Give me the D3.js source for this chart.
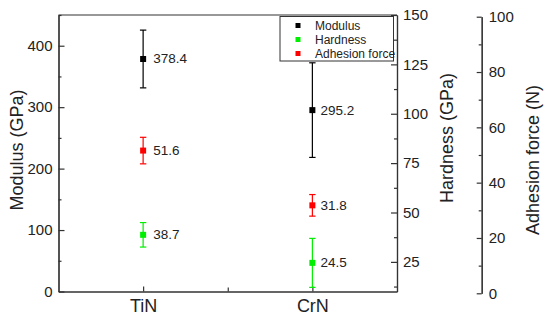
<!DOCTYPE html>
<html>
<head>
<meta charset="utf-8">
<script src="https://cdn.jsdelivr.net/npm/d3@7"></script>
<style>
  html, body { margin: 0; padding: 0; background: #fff; }
  svg { display: block; font-family: "Liberation Sans", Arial, sans-serif; }
</style>
</head>
<body>
<svg id="chart" width="550" height="319"></svg>
<script>
// ---- data ----
const categories = ["TiN", "CrN"];
const modulus = [378.4, 295.2];
const modulusErr = [47, 77];
const hardness = [38.7, 24.5];
const hardnessErr = [6.2, 12.4];
const adhesion = [51.6, 31.8];
const adhesionErr = [4.8, 3.9];
const modulusTicks = [0, 100, 200, 300, 400];
const hardnessTicks = [25, 50, 75, 100, 125, 150];
const adhesionTicks = [0, 20, 40, 60, 80, 100];
const legendNames = ["Modulus", "Hardness", "Adhesion force"];
const seriesColors = ["#000000", "#00ee00", "#ff0000"];

// ---- layout ----
const svg = d3.select("#chart");
const L = 58.5, R = 397, T = 15, B = 291.5;
const axisColor = "#333";
const textColor = "#222";

const x = d3.scaleLinear().domain([0.5, 2.5]).range([L, R]);
const yMod = d3.scaleLinear().domain([0, 450]).range([B, T]);
const yHard = d3.scaleLinear().domain([10, 150]).range([B, T]);
const yAdh = d3.scaleLinear().domain([0, 100]).range([293.3, 16.7]);

function styleAxis(g, fs) {
  g.select(".domain").attr("stroke", axisColor).attr("stroke-width", 1.2);
  g.selectAll(".tick line").attr("stroke", axisColor).attr("stroke-width", 1.2);
  g.selectAll(".tick text").attr("fill", textColor).style("font-size", fs + "px")
    .style("font-family", "'Liberation Sans', Arial, sans-serif");
}

// frame top line
svg.append("line").attr("x1", L).attr("x2", R).attr("y1", T).attr("y2", T)
  .attr("stroke", axisColor).attr("stroke-width", 1.2);

// left axis (modulus) minor ticks
const gLm = svg.append("g").attr("transform", `translate(${L},0)`)
  .call(d3.axisRight(yMod).tickValues([50, 150, 250, 350, 450]).tickSize(3).tickFormat("").tickSizeOuter(0));
styleAxis(gLm, 14);
const gL = svg.append("g").attr("transform", `translate(${L},0)`)
  .call(d3.axisLeft(yMod).tickValues(modulusTicks).tickSizeInner(-6).tickSizeOuter(0).tickPadding(6));
styleAxis(gL, 15);

// right axis (hardness) on frame
const gRm = svg.append("g").attr("transform", `translate(${R},0)`)
  .call(d3.axisLeft(yHard).tickValues([12.5, 37.5, 62.5, 87.5, 112.5, 137.5]).tickSize(3).tickFormat("").tickSizeOuter(0));
styleAxis(gRm, 14);
const gR = svg.append("g").attr("transform", `translate(${R},0)`)
  .call(d3.axisRight(yHard).tickValues(hardnessTicks).tickSizeInner(-6).tickSizeOuter(0).tickPadding(6));
styleAxis(gR, 15);

// bottom axis
const gBm = svg.append("g").attr("transform", `translate(0,${B})`)
  .call(d3.axisTop(x).tickValues([1.5]).tickSize(4).tickFormat("").tickSizeOuter(0));
styleAxis(gBm, 14);
const gB = svg.append("g").attr("transform", `translate(0,${B})`)
  .call(d3.axisBottom(x).tickValues([1, 2]).tickFormat(d => categories[d - 1])
    .tickSizeInner(-5).tickSizeOuter(0).tickPadding(8));
styleAxis(gB, 18);

// third axis (adhesion)
const AX = 481.7;
const gAm = svg.append("g").attr("transform", `translate(${AX},0)`)
  .call(d3.axisLeft(yAdh).tickValues([10, 30, 50, 70, 90]).tickSize(3).tickFormat("").tickSizeOuter(0));
styleAxis(gAm, 14);
const gA = svg.append("g").attr("transform", `translate(${AX},0)`)
  .call(d3.axisRight(yAdh).tickValues(adhesionTicks).tickSizeInner(-5).tickSizeOuter(0).tickPadding(7));
styleAxis(gA, 15);

// axis titles
function vTitle(cx, cy, txt) {
  svg.append("text").attr("transform", `translate(${cx},${cy}) rotate(-90)`)
    .attr("text-anchor", "middle").attr("dominant-baseline", "central")
    .attr("fill", textColor).style("font-size", "18px").text(txt);
}
vTitle(17, 150, "Modulus (GPa)");
vTitle(447, 138, "Hardness (GPa)");
vTitle(533, 160, "Adhesion force (N)");

// series drawing
const series = [
  { vals: modulus, errs: modulusErr, y: yMod, color: seriesColors[0] },
  { vals: hardness, errs: hardnessErr, y: yHard, color: seriesColors[1] },
  { vals: adhesion, errs: adhesionErr, y: yAdh, color: seriesColors[2] }
];
const capW = 3.2, mk = 6;
series.forEach(s => {
  const g = svg.append("g");
  s.vals.forEach((v, i) => {
    const cx = x(i + 1);
    const y0 = s.y(v - s.errs[i]), y1 = s.y(v + s.errs[i]);
    g.append("line").attr("x1", cx).attr("x2", cx).attr("y1", y0).attr("y2", y1)
      .attr("stroke", s.color).attr("stroke-width", 1.2);
    [y0, y1].forEach(yy => g.append("line").attr("x1", cx - capW).attr("x2", cx + capW)
      .attr("y1", yy).attr("y2", yy).attr("stroke", s.color).attr("stroke-width", 1.2));
    g.append("rect").attr("x", cx - mk / 2).attr("y", s.y(v) - mk / 2)
      .attr("width", mk).attr("height", mk).attr("fill", s.color);
    g.append("text").attr("x", cx + (i === 0 ? 10 : 8)).attr("y", s.y(v))
      .attr("dominant-baseline", "central").attr("fill", textColor)
      .style("font-size", "13.5px").text(v.toFixed(1));
  });
});

// legend
const lg = svg.append("g");
lg.append("rect").attr("x", 280).attr("y", 16.5).attr("width", 113.5).attr("height", 44.5)
  .attr("fill", "#fff").attr("stroke", axisColor).attr("stroke-width", 1);
legendNames.forEach((n, i) => {
  const yy = 25.5 + i * 14;
  lg.append("rect").attr("x", 295.5).attr("y", yy - 2.5).attr("width", 5).attr("height", 5)
    .attr("fill", seriesColors[i]);
  lg.append("text").attr("x", 315).attr("y", yy).attr("dominant-baseline", "central")
    .attr("fill", textColor).style("font-size", "12px").text(n);
});
</script>
</body>
</html>
